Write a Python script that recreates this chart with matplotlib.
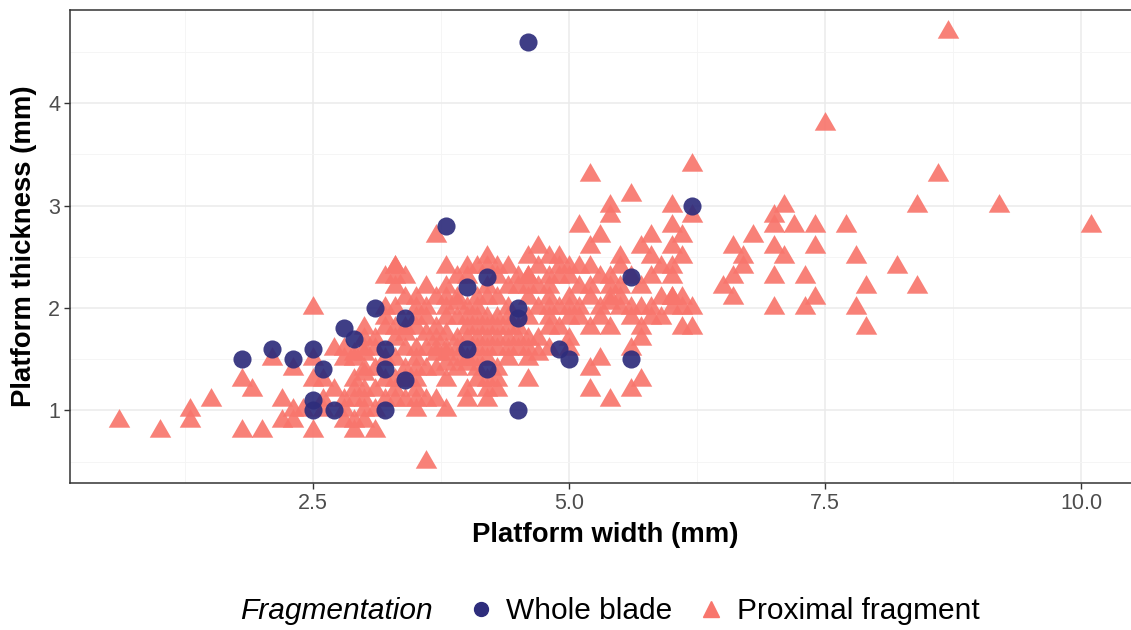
import numpy as np
import matplotlib.pyplot as plt
from matplotlib.lines import Line2D

plt.rcParams['font.family'] = ['Liberation Sans', 'DejaVu Sans']

# Whole blades (circles)
whole_x = [4.6, 6.2, 3.8, 1.8, 2.1, 2.3, 2.5, 2.6, 2.5, 2.5, 2.7, 2.8, 2.9, 3.1, 3.2,
           3.2, 3.2, 3.4, 3.4, 4.0, 4.2, 4.2, 4.0, 4.5, 4.5, 4.5, 4.9, 5.0, 5.6, 5.6]
whole_y = [4.6, 3.0, 2.8, 1.5, 1.6, 1.5, 1.6, 1.4, 1.1, 1.0, 1.0, 1.8, 1.7, 2.0, 1.6,
           1.4, 1.0, 1.9, 1.3, 2.2, 2.3, 1.4, 1.6, 2.0, 1.9, 1.0, 1.6, 1.5, 1.5, 2.3]

# Proximal fragments (triangles)
prox_x = [0.6, 1.0, 1.3, 1.3, 1.5, 1.8, 1.9, 1.8, 2.0,
          2.1, 2.3, 2.5, 2.5, 2.5, 2.6, 2.2, 2.3, 2.2, 2.3, 2.4, 2.5, 2.8, 2.8, 2.9,
          2.9, 3.0, 3.0, 3.0, 2.8, 2.8, 2.9, 2.8,
          2.6, 2.9, 3.0, 3.1, 3.3, 3.4, 3.5, 3.6, 3.7, 3.5, 3.0, 3.1, 3.3, 3.4, 3.8,
          3.7, 3.5, 2.7, 2.9, 3.0, 3.3, 3.5, 3.7, 3.8, 4.0, 4.2, 4.1, 4.2, 4.3, 4.0,
          3.8, 3.0, 3.0, 3.1, 3.6,
          3.7, 3.3, 3.2, 3.3, 3.3, 3.3, 3.2, 3.5, 3.6, 3.7, 3.8, 3.9, 4.0, 3.8, 3.9,
          4.0, 4.1, 4.2, 4.3, 4.2, 3.5, 3.6, 3.7, 3.8, 3.9, 4.1, 4.2, 4.0, 4.1, 4.2,
          4.3, 3.3, 3.4, 3.6, 3.8, 3.9, 4.1, 4.2, 4.3,
          4.7, 4.8, 4.6, 4.9, 4.9, 4.7, 4.5, 4.6, 5.0, 5.4, 5.6, 4.4, 4.8, 5.1, 5.4,
          5.5, 4.8, 5.0, 5.2, 5.4, 5.5, 4.7, 4.8, 5.0, 5.1, 5.3, 5.4, 5.5, 6.0, 6.2,
          4.4, 4.6, 4.8, 5.3, 5.6, 5.8, 4.8, 5.4, 5.7, 6.1, 6.2, 4.6, 4.7,
          4.6, 4.3, 5.2, 5.3, 5.2, 5.4, 5.6, 5.7, 5.6, 5.7, 5.0, 4.5, 4.6, 4.7,
          5.2, 6.2, 5.6, 5.4, 5.4, 6.0, 6.2, 5.1, 5.3, 5.2, 6.0, 5.8, 5.7, 6.1, 6.0,
          6.1, 5.8, 5.5, 5.2, 5.5, 6.0, 6.0, 6.1,
          6.6, 6.8, 6.7, 6.7, 6.6, 6.5, 6.6, 7.0, 7.0, 7.1, 7.2, 7.4, 7.7, 7.0, 7.1,
          7.4, 7.0, 7.3, 7.4, 7.3, 7.0, 7.8, 8.2, 7.9, 8.4, 7.8, 7.9,
          8.7, 7.5, 8.6, 8.4, 9.2, 10.1,
          3.5, 3.6, 3.7, 3.8, 3.9, 4.1, 4.2, 4.3, 4.4, 3.7, 4.0, 4.4, 3.9, 4.0, 4.1,
          4.2, 4.4, 4.4, 4.5, 4.5, 4.3, 4.0, 3.5, 3.4, 3.4, 3.2, 3.1, 3.1, 3.2, 3.6,
          3.9, 4.3, 4.1, 3.5, 3.9, 4.1, 4.3, 4.2, 4.4, 4.6, 4.5, 4.3, 4.6, 4.9, 4.9,
          5.0, 5.1, 5.2, 4.9, 5.0, 4.8, 3.3, 3.4, 3.2, 3.0, 2.9, 3.0, 3.2, 3.3, 3.4,
          3.5, 2.7, 2.6, 2.9, 3.1, 3.5, 3.2, 4.2, 4.0, 3.8, 4.6, 5.1, 5.3, 5.8, 5.9,
          6.0, 5.7, 5.9, 5.6, 5.7, 5.9, 6.0, 5.8, 6.1, 5.2, 5.0, 4.8, 4.7, 4.6, 4.4,
          4.1, 4.0, 3.8, 4.2, 3.8, 3.6, 3.4, 3.3]
prox_y = [0.9, 0.8, 1.0, 0.9, 1.1, 1.3, 1.2, 0.8, 0.8,
          1.5, 1.4, 1.5, 2.0, 1.3, 1.3, 1.1, 1.0, 0.9, 0.9, 1.0, 0.8, 1.0, 0.9, 0.8,
          0.9, 1.1, 1.7, 1.8, 1.6, 1.5, 1.3, 1.1,
          1.1, 1.2, 1.2, 1.2, 1.2, 1.1, 1.1, 1.1, 1.1, 1.2, 1.35, 1.4, 1.3, 1.3, 1.3,
          1.4, 1.4, 1.6, 1.55, 1.55, 1.5, 1.5, 1.55, 1.55, 1.2, 1.2, 1.3, 1.3, 1.3, 1.45,
          1.45, 1.0, 0.9, 0.8, 0.5,
          2.7, 2.4, 2.3, 2.3, 2.2, 1.8, 1.9, 2.0, 2.0, 2.1, 2.2, 2.3, 2.3, 2.0, 2.05,
          2.0, 2.0, 2.5, 2.4, 2.4, 1.8, 1.9, 1.8, 1.9, 1.9, 1.9, 1.9, 1.8, 1.8, 1.8,
          1.8, 1.7, 1.75, 1.75, 1.75, 1.7, 1.7, 1.7, 1.7,
          2.6, 2.5, 2.5, 2.5, 2.4, 2.4, 2.3, 2.3, 2.3, 2.3, 2.3, 2.2, 2.2, 2.2, 2.2,
          2.2, 2.1, 2.1, 2.1, 2.1, 2.1, 2.0, 2.0, 2.0, 2.0, 2.0, 2.05, 2.0, 2.0, 2.0,
          1.9, 1.9, 1.9, 1.9, 1.9, 1.9, 1.8, 1.8, 1.8, 1.8, 1.8, 1.7, 1.7,
          1.3, 1.2, 1.4, 1.5, 1.2, 1.1, 1.2, 1.3, 1.6, 1.7, 1.6, 1.6, 1.6, 1.55,
          3.3, 3.4, 3.1, 3.0, 2.9, 3.0, 2.9, 2.8, 2.7, 2.6, 2.8, 2.7, 2.6, 2.7, 2.6,
          2.5, 2.5, 2.5, 2.4, 2.4, 2.3, 2.1, 2.1,
          2.6, 2.7, 2.5, 2.4, 2.3, 2.2, 2.1, 2.9, 2.8, 3.0, 2.8, 2.8, 2.8, 2.6, 2.5,
          2.6, 2.3, 2.3, 2.1, 2.0, 2.0, 2.5, 2.4, 2.2, 2.2, 2.0, 1.8,
          4.7, 3.8, 3.3, 3.0, 3.0, 2.8,
          1.6, 1.6, 1.6, 1.6, 1.6, 1.6, 1.6, 1.6, 1.6, 1.7, 1.7, 1.7, 1.5, 1.5, 1.5,
          1.5, 1.5, 1.8, 1.8, 1.7, 1.9, 1.9, 1.9, 1.8, 1.6, 1.5, 1.6, 1.7, 1.8, 1.4,
          1.4, 1.4, 1.4, 2.1, 2.1, 2.1, 2.1, 2.2, 2.0, 2.1, 2.2, 2.3, 2.2, 2.3, 2.0,
          1.9, 1.9, 1.8, 1.8, 1.7, 1.6, 2.0, 2.1, 2.0, 1.6, 1.5, 1.4, 1.3, 1.1, 1.4,
          1.3, 1.2, 1.0, 1.1, 1.0, 1.0, 1.1, 1.1, 1.1, 1.0, 1.5, 2.4, 2.3, 2.3, 2.1,
          2.1, 2.0, 1.9, 2.0, 2.2, 2.4, 2.4, 2.0, 2.0, 2.2, 2.4, 2.3, 2.2, 2.3, 2.4,
          2.4, 2.4, 2.4, 2.1, 2.1, 2.2, 2.3, 2.4]

x_ticks = [2.5, 5.0, 7.5, 10.0]
x_minor = [1.25, 3.75, 6.25, 8.75]
y_ticks = [1, 2, 3, 4]
y_minor = [0.5, 1.5, 2.5, 3.5, 4.5]

blue = '#2E2D7C'
salmon = '#F8766D'
tri = [(-1, -0.577), (1, -0.577), (0, 1.155)]

fig = plt.figure(figsize=(11.31, 6.3), dpi=100)
ax = fig.add_axes([70 / 1131, 1 - 483 / 630, 1070 / 1131, 473 / 630])

ax.scatter(prox_x, prox_y, marker=tri, s=320, color=salmon, alpha=0.92,
           linewidths=0, zorder=3)
ax.scatter(whole_x, whole_y, marker='o', s=170, color=blue, alpha=0.92,
           linewidths=0, zorder=4)

ax.set_xlim(0.125, 10.575)
ax.set_ylim(0.29, 4.91)
ax.set_xticks(x_ticks)
ax.set_xticklabels(['2.5', '5.0', '7.5', '10.0'])
ax.set_xticks(x_minor, minor=True)
ax.set_yticks(y_ticks)
ax.set_yticks(y_minor, minor=True)
ax.grid(which='major', color='#EBEBEB', lw=1.1, zorder=0)
ax.grid(which='minor', color='#F4F4F4', lw=0.6, zorder=0)
ax.set_axisbelow(True)
ax.tick_params(which='major', length=4, width=1, color='#333333',
               labelsize=15.5, labelcolor='#4D4D4D', pad=3)
ax.tick_params(which='minor', length=0)
for s in ax.spines.values():
    s.set_color('#333333')
    s.set_linewidth(1.1)

ax.set_xlabel('Platform width (mm)', fontsize=19.8, fontweight='bold', labelpad=6)
ax.set_ylabel('Platform thickness (mm)', fontsize=19.8, fontweight='bold', labelpad=8)

fig.text(240 / 1131, 1 - 611 / 630, 'Fragmentation', fontsize=21.5, style='italic',
         ha='left', va='center')
handles = [Line2D([], [], marker='o', ls='', color=blue, markersize=10),
           Line2D([], [], marker='^', ls='', color=salmon, markersize=11)]
fig.legend(handles, ['Whole blade', 'Proximal fragment'], ncol=2, frameon=False,
           loc='center left', bbox_to_anchor=(466 / 1131, 1 - 611 / 630),
           fontsize=21.5, handletextpad=0.35, columnspacing=0.8, handlelength=1.0,
           borderpad=0, borderaxespad=0)

fig.savefig('out.png', dpi=100)
